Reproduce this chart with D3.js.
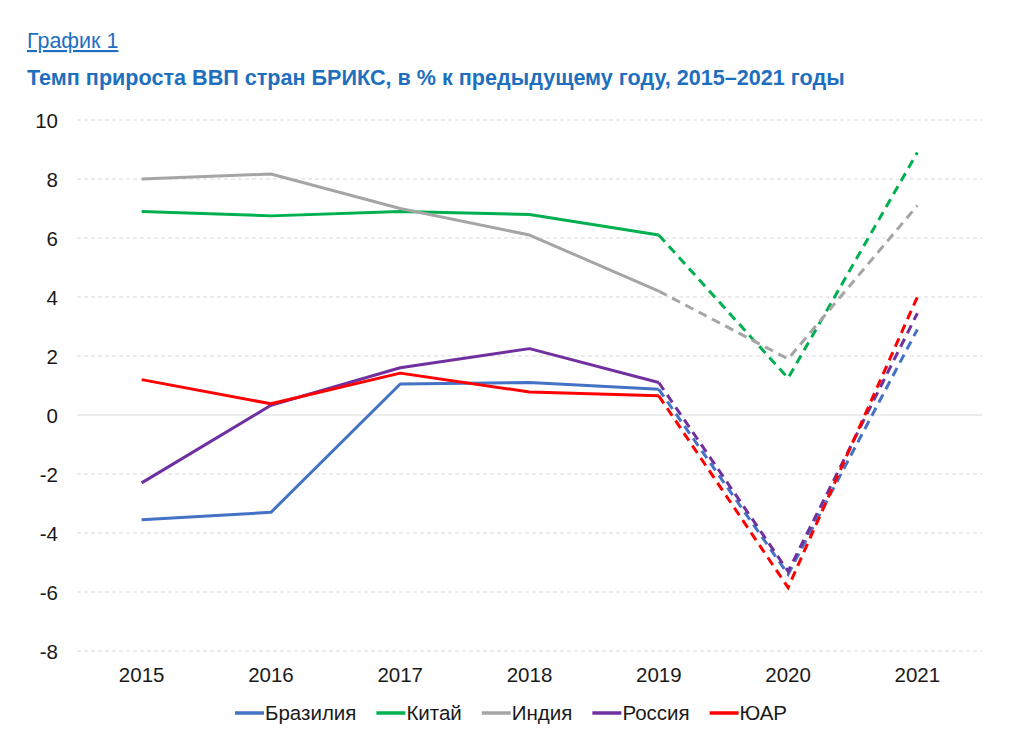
<!DOCTYPE html>
<html><head><meta charset="utf-8">
<script src="https://cdn.jsdelivr.net/npm/d3@7"></script>
<style>body{margin:0;background:#fff;}svg{display:block;font-family:"Liberation Sans",Arial,sans-serif;}</style>
</head><body>
<svg id="chart" width="1024" height="739"></svg>
<script>
const years = ["2015","2016","2017","2018","2019","2020","2021"];
const yTicks = [-8,-6,-4,-2,0,2,4,6,8,10];
const seriesNames = ["Бразилия","Китай","Индия","Россия","ЮАР"];
const seriesColors = ["#4472C4","#00B050","#A5A5A5","#7030A0","#FF0000"];
const brazil = [-3.55,-3.3,1.05,1.1,0.87,-5.4,2.9];
const china  = [6.9,6.75,6.9,6.8,6.1,1.25,8.9];
const india  = [8.0,8.17,7.0,6.1,4.2,1.9,7.1];
const russia = [-2.3,0.33,1.6,2.25,1.1,-5.3,3.45];
const safrica= [1.2,0.38,1.42,0.78,0.65,-5.85,4.0];
const values = [brazil,china,india,russia,safrica];
const solidUntil = 4; // index of last solid point (2019)

const svg = d3.select("#chart");
const blue = "#1F6FBF";
svg.append("text").attr("x",27).attr("y",48).attr("font-size",21.5).attr("fill",blue)
  .attr("text-decoration","underline").text("График 1");
svg.append("text").attr("x",27).attr("y",85).attr("font-size",21.6).attr("font-weight","bold").attr("fill",blue)
  .text("Темп прироста ВВП стран БРИКС, в % к предыдущему году, 2015–2021 годы");

const L=77,R=982,T=120,B=651;
const x = d3.scaleBand().domain(years).range([L,R]);
const y = d3.scaleLinear().domain([-8,10]).range([B,T]);
const cx = d => x(d)+x.bandwidth()/2;

const g = svg.append("g");
g.selectAll("line.grid").data(yTicks).enter().append("line")
  .attr("x1",L).attr("x2",R).attr("y1",d=>y(d)).attr("y2",d=>y(d))
  .attr("stroke","#D9D9D9").attr("stroke-width",1)
  .attr("stroke-dasharray",d=>d===0?null:"4,3");

const fs = 20.5;
const yAxis = d3.axisLeft(y).tickValues(yTicks).tickSize(0).tickPadding(0).tickFormat(d=>String(d));
const ya = svg.append("g").attr("transform",`translate(58,0)`).call(yAxis);
ya.select(".domain").remove();
ya.selectAll("text").attr("font-size",fs).attr("fill","#1a1a1a").attr("font-family","Liberation Sans, Arial, sans-serif").attr("dy","0.35em");

const xAxis = d3.axisBottom(x).tickSize(0).tickPadding(0);
const xa = svg.append("g").attr("transform",`translate(0,${B+16})`).call(xAxis);
xa.select(".domain").remove();
xa.selectAll("text").attr("font-size",fs).attr("fill","#1a1a1a").attr("font-family","Liberation Sans, Arial, sans-serif").attr("dy","0.71em");

const line = d3.line().x(d=>cx(d.year)).y(d=>y(d.v));
values.forEach((vals,i)=>{
  const pts = vals.map((v,j)=>({year:years[j],v}));
  g.append("path").datum(pts.slice(0,solidUntil+1)).attr("d",line)
    .attr("fill","none").attr("stroke",seriesColors[i]).attr("stroke-width",3)
    .attr("stroke-linejoin","round");
  g.append("path").datum(pts.slice(solidUntil)).attr("d",line)
    .attr("fill","none").attr("stroke",seriesColors[i]).attr("stroke-width",3)
    .attr("stroke-dasharray","9,6");
});

// legend
const leg = svg.append("g");
let lx = 235; const ly = 713;
seriesNames.forEach((n,i)=>{
  const it = leg.append("g").attr("transform",`translate(${lx},${ly})`);
  it.append("line").attr("x1",0).attr("x2",29).attr("y1",0).attr("y2",0)
    .attr("stroke",seriesColors[i]).attr("stroke-width",3.5);
  const t = it.append("text").attr("x",30).attr("y",7).attr("font-size",fs).attr("fill","#1a1a1a").text(n);
  lx += 30 + t.node().getComputedTextLength() + 20;
});
</script>
</body></html>
